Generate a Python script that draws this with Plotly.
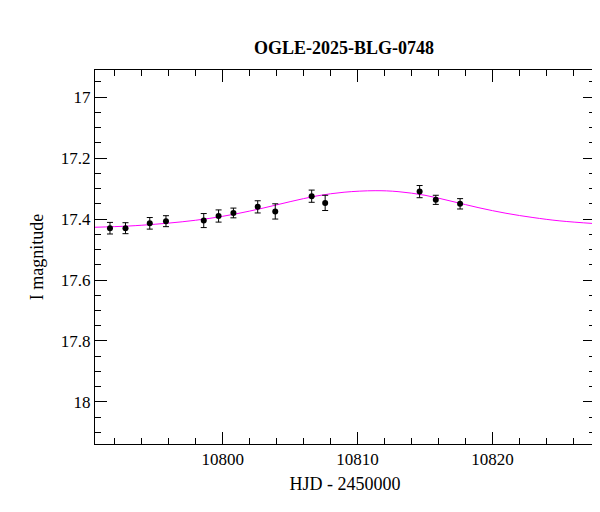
import plotly.graph_objects as go

# Observed photometry
hjd = [10791.65, 10792.8, 10794.6, 10795.8, 10798.6, 10799.7, 10800.8, 10802.6,
       10803.9, 10806.6, 10807.6, 10814.6, 10815.8, 10817.6]
mag = [17.430, 17.430, 17.414, 17.407, 17.405, 17.390, 17.380, 17.360,
       17.375, 17.325, 17.347, 17.310, 17.337, 17.350]
err = [0.019, 0.018, 0.019, 0.018, 0.023, 0.020, 0.016, 0.020,
       0.025, 0.020, 0.025, 0.020, 0.015, 0.017]

# Model curve
model_t = [10790.5, 10793, 10795, 10797, 10799, 10801, 10803, 10805, 10807, 10809,
           10811.3, 10813, 10815, 10817, 10819, 10821, 10823, 10825, 10827.6]
model_m = [17.427, 17.423, 17.417, 17.409, 17.398, 17.383, 17.364, 17.343, 17.324, 17.312,
           17.307, 17.310, 17.322, 17.342, 17.363, 17.381, 17.395, 17.406, 17.415]

x_ticks = [10800, 10810, 10820]
y_ticks = [17, 17.2, 17.4, 17.6, 17.8, 18]
y_labels = ["17", "17.2", "17.4", "17.6", "17.8", "18"]

FONT = "Liberation Serif"

fig = go.Figure()
fig.add_trace(go.Scatter(x=model_t, y=model_m, mode="lines", line=dict(color="#ff00ff", width=1, shape="spline"),
                         hoverinfo="skip"))
fig.add_trace(go.Scatter(x=hjd, y=mag, mode="markers",
                         marker=dict(color="black", size=6),
                         error_y=dict(type="data", array=err, color="black", thickness=1, width=3)))

axis_common = dict(showgrid=False, zeroline=False, showline=True, linecolor="black", linewidth=1,
                   mirror="allticks", ticks="inside", ticklen=12, tickcolor="black", automargin=False,
                   tickfont=dict(family=FONT, size=17, color="black"))

fig.update_xaxes(range=[10790.54, 10827.6], tickvals=x_ticks, ticktext=[str(t) for t in x_ticks],
                 minor=dict(dtick=2, tick0=10790, ticks="inside", ticklen=6, tickcolor="black"),
                 title=dict(text="HJD - 2450000", font=dict(family=FONT, size=18, color="black"), standoff=8),
                 **axis_common)
fig.update_yaxes(range=[18.138, 16.911], tickvals=y_ticks, ticktext=y_labels,
                 minor=dict(dtick=0.05, tick0=17, ticks="inside", ticklen=6, tickcolor="black"),
                 title=dict(text="I magnitude", font=dict(family=FONT, size=18, color="black"), standoff=12),
                 **axis_common)

fig.update_layout(
    width=600, height=512,
    margin=dict(l=87, r=13, t=62, b=76),
    paper_bgcolor="white", plot_bgcolor="white",
    showlegend=False,
    title=dict(text="<b>OGLE-2025-BLG-0748</b>", x=0.56, xanchor="center", y=0.935,
               font=dict(family=FONT, size=18, color="black")),
)

fig.write_html("out.html")
